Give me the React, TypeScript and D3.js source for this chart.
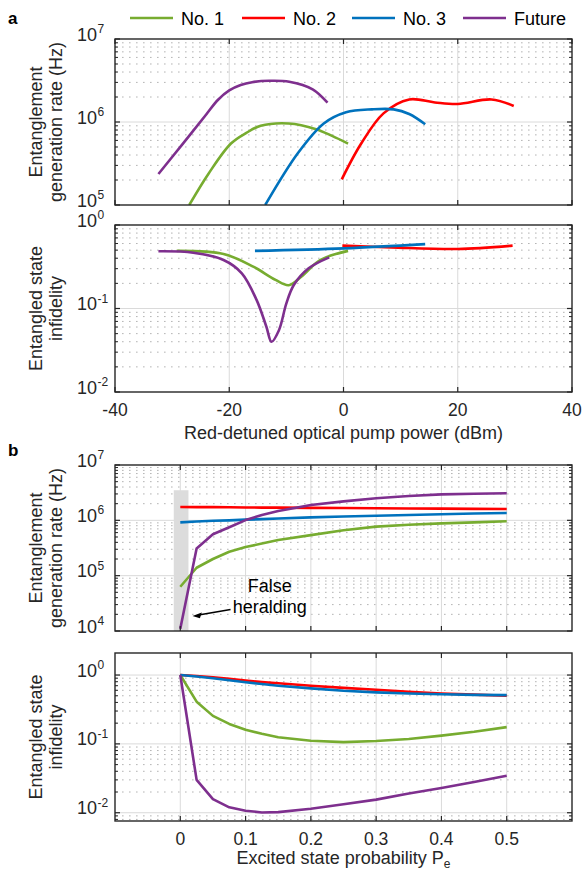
import React from 'react'
import * as d3 from 'd3'

// panel a: versus red-detuned optical pump power (dBm)
const rateNo1Power = [-27, -23.6, -19.7, -17, -14.5, -9.6, -4.8, -2, 0.8]
const rateNo1 = [1e5, 2.4e5, 5.5e5, 7.4e5, 9.0e5, 9.6e5, 8.2e5, 6.8e5, 5.5e5]
const rateNo2Power = [-0.3, 3.1, 7, 11.5, 16, 20, 25.9, 29.8]
const rateNo2 = [2.04e5, 5.5e5, 1.27e6, 1.87e6, 1.72e6, 1.65e6, 1.87e6, 1.56e6]
const rateNo3Power = [-13.7, -8, -3.45, 0.45, 5, 8.8, 11.5, 14.3]
const rateNo3 = [1e5, 4.2e5, 9.6e5, 1.31e6, 1.42e6, 1.42e6, 1.25e6, 9.4e5]
const rateFuturePower = [-32.4, -28, -24, -22, -20, -18, -16, -13, -9.5, -5.4, -2.8]
const rateFuture = [2.36e5, 5.6e5, 1.24e6, 1.84e6, 2.4e6, 2.79e6, 3.02e6, 3.14e6, 3.06e6, 2.48e6, 1.71e6]

const infNo1Power = [-29.2, -21, -15.8, -11.9, -9.6, -7.4, -4.1, 0.8]
const infNo1 = [0.49, 0.45, 0.317, 0.22, 0.19, 0.24, 0.38, 0.49]
const infNo2Power = [-0.2, 8.3, 20, 29.6]
const infNo2 = [0.566, 0.54, 0.516, 0.566]
const infNo3Power = [-15.5, 0.1, 14.3]
const infNo3 = [0.49, 0.525, 0.59]
const infFuturePower = [-32.4, -26.3, -21, -17.8, -15.2, -13.5, -12.6, -11.3, -10, -8.7, -6.1, -2.5]
const infFuture = [0.484, 0.466, 0.381, 0.264, 0.126, 0.0605, 0.04, 0.055, 0.115, 0.191, 0.303, 0.41]

// panel b: versus excited state probability Pe
const pe = [0, 0.025, 0.05, 0.075, 0.1, 0.125, 0.15, 0.2, 0.25, 0.3, 0.35, 0.4, 0.45, 0.5]
const peRateNo1 = [6.3e4, 1.39e5, 2.0e5, 2.7e5, 3.3e5, 3.8e5, 4.4e5, 5.4e5, 6.6e5, 7.7e5, 8.3e5, 8.8e5, 9.2e5, 9.6e5]
const peRateNo2 = [1.74e6, 1.73e6, 1.73e6, 1.72e6, 1.71e6, 1.7e6, 1.7e6, 1.68e6, 1.67e6, 1.65e6, 1.64e6, 1.63e6, 1.61e6, 1.6e6]
const peRateNo3 = [9.2e5, 9.5e5, 9.8e5, 1.0e6, 1.03e6, 1.05e6, 1.08e6, 1.13e6, 1.17e6, 1.21e6, 1.25e6, 1.29e6, 1.33e6, 1.36e6]
const peRateFuture = [1.1e4, 3.1e5, 5.6e5, 7.5e5, 1.01e6, 1.25e6, 1.47e6, 1.89e6, 2.2e6, 2.5e6, 2.75e6, 2.95e6, 3.03e6, 3.08e6]
const peInfNo1 = [1.0, 0.41, 0.255, 0.195, 0.16, 0.14, 0.125, 0.111, 0.106, 0.11, 0.118, 0.132, 0.15, 0.175]
const peInfNo2 = [1.0, 0.97, 0.93, 0.88, 0.83, 0.79, 0.76, 0.7, 0.65, 0.61, 0.57, 0.54, 0.52, 0.5]
const peInfNo3 = [1.0, 0.95, 0.9, 0.84, 0.785, 0.74, 0.7, 0.64, 0.59, 0.56, 0.54, 0.526, 0.515, 0.51]
const peInfFuture = [1.0, 0.03, 0.0158, 0.012, 0.0107, 0.0101, 0.0102, 0.0114, 0.0133, 0.0155, 0.019, 0.0229, 0.028, 0.0345]

const legendNames = ['No. 1', 'No. 2', 'No. 3', 'Future']
const colors = ['#77AC30', '#FF0000', '#0072BD', '#7E2F8E']
const powerTicks = [-40, -20, 0, 20, 40]
const peTicks = [0, 0.1, 0.2, 0.3, 0.4, 0.5]

const W = 582
const H = 871
const LEFT = 115
const RIGHT = 572
const FONT = 'Liberation Sans, Arial, Helvetica, sans-serif'
const AXIS = '#262626'

type Line = { xs: number[]; ys: number[]; color: string }

function LogPanel({ id, x, yDomain, top, bottom, lines, xTicks, xLabels, yLabel, curve, under, children }: {
  id: string
  x: d3.ScaleLinear<number, number>
  yDomain: [number, number]
  top: number
  bottom: number
  lines: Line[]
  xTicks: number[]
  xLabels?: string[]
  yLabel: string[]
  curve: d3.CurveFactory
  under?: (y: d3.ScaleLogarithmic<number, number>) => React.ReactNode
  children?: (y: d3.ScaleLogarithmic<number, number>) => React.ReactNode
}) {
  const y = d3.scaleLog().domain(yDomain).range([bottom, top])
  const lo = Math.floor(Math.log10(yDomain[0]))
  const hi = Math.ceil(Math.log10(yDomain[1]))
  const majors: number[] = []
  const minors: number[] = []
  for (let e = lo; e <= hi; e++) {
    const v = Math.pow(10, e)
    if (y(v) >= top - 0.5 && y(v) <= bottom + 0.5) majors.push(v)
    for (let m = 2; m <= 9; m++) {
      const py = y(m * v)
      // skip minor lines above the top decade (only the lower panel b has room there)
      if (py > top + 2 && py < bottom - 1 && m * v <= 1.0001 * Math.pow(10, Math.floor(Math.log10(yDomain[1]) + 1e-9))) minors.push(m * v)
    }
  }
  const path = (l: Line) =>
    d3.line<number>()
      .x(d => x(d))
      .y((_, i) => y(l.ys[i]))
      .curve(curve)(l.xs) || ''
  const cy = (top + bottom) / 2
  return (
    <g>
      <clipPath id={id}>
        <rect x={LEFT} y={top} width={RIGHT - LEFT} height={bottom - top} />
      </clipPath>
      {minors.map((v, i) => (
        <line key={'mg' + i} x1={LEFT} x2={RIGHT} y1={y(v)} y2={y(v)} stroke="#b4b4b4" strokeWidth={1} strokeDasharray="1.6,5.4" />
      ))}
      {majors.filter(v => y(v) > top + 1 && y(v) < bottom - 1).map((v, i) => (
        <line key={'g' + i} x1={LEFT} x2={RIGHT} y1={y(v)} y2={y(v)} stroke="#dadada" strokeWidth={1} />
      ))}
      {xTicks.filter(t => x(t) > LEFT + 1 && x(t) < RIGHT - 1).map((t, i) => (
        <line key={'vg' + i} x1={x(t)} x2={x(t)} y1={top} y2={bottom} stroke="#dadada" strokeWidth={1} />
      ))}
      {under && under(y)}
      <g clipPath={`url(#${id})`}>
        {lines.map((l, i) => (
          <path key={i} d={path(l)} fill="none" stroke={l.color} strokeWidth={2.6} strokeLinejoin="round" />
        ))}
      </g>
      {children && children(y)}
      <rect x={LEFT} y={top} width={RIGHT - LEFT} height={bottom - top} fill="none" stroke={AXIS} strokeWidth={1.4} />
      {majors.map((v, i) => (
        <g key={'t' + i}>
          <line x1={LEFT} x2={LEFT + 5} y1={y(v)} y2={y(v)} stroke={AXIS} strokeWidth={1.2} />
          <line x1={RIGHT} x2={RIGHT - 5} y1={y(v)} y2={y(v)} stroke={AXIS} strokeWidth={1.2} />
          <text x={97} y={y(v) + 1.5} textAnchor="end" fontSize={18} fill={AXIS}>10</text>
          <text x={97.5} y={y(v) - 6} textAnchor="start" fontSize={12} fill={AXIS}>{Math.round(Math.log10(v))}</text>
        </g>
      ))}
      {minors.map((v, i) => (
        <g key={'mt' + i}>
          <line x1={LEFT} x2={LEFT + 3} y1={y(v)} y2={y(v)} stroke={AXIS} strokeWidth={1} />
          <line x1={RIGHT} x2={RIGHT - 3} y1={y(v)} y2={y(v)} stroke={AXIS} strokeWidth={1} />
        </g>
      ))}
      {xTicks.map((t, i) => (
        <g key={'xt' + i}>
          <line x1={x(t)} x2={x(t)} y1={bottom} y2={bottom - 5} stroke={AXIS} strokeWidth={1.2} />
          <line x1={x(t)} x2={x(t)} y1={top} y2={top + 5} stroke={AXIS} strokeWidth={1.2} />
          {xLabels && (
            <text x={x(t)} y={bottom + 24} textAnchor="middle" fontSize={17.5} fill={AXIS}>{xLabels[i]}</text>
          )}
        </g>
      ))}
      {yLabel.map((s, i) => (
        <text key={'yl' + i} transform={`translate(${42 + i * 20},${cy}) rotate(-90)`} textAnchor="middle" fontSize={18} fill={AXIS}>{s}</text>
      ))}
    </g>
  )
}

export default function App() {
  const xa = d3.scaleLinear().domain([-40, 40]).range([LEFT, RIGHT])
  const xb = d3.scaleLinear().domain([-0.1, 0.6]).range([LEFT, RIGHT])
  const smooth = d3.curveCatmullRom.alpha(0.5)

  const aRate: Line[] = [
    { xs: rateNo1Power, ys: rateNo1, color: colors[0] },
    { xs: rateNo2Power, ys: rateNo2, color: colors[1] },
    { xs: rateNo3Power, ys: rateNo3, color: colors[2] },
    { xs: rateFuturePower, ys: rateFuture, color: colors[3] },
  ]
  const aInf: Line[] = [
    { xs: infNo1Power, ys: infNo1, color: colors[0] },
    { xs: infNo2Power, ys: infNo2, color: colors[1] },
    { xs: infNo3Power, ys: infNo3, color: colors[2] },
    { xs: infFuturePower, ys: infFuture, color: colors[3] },
  ]
  const bRate: Line[] = [peRateNo1, peRateNo2, peRateNo3, peRateFuture].map((ys, i) => ({ xs: pe, ys, color: colors[i] }))
  const bInf: Line[] = [peInfNo1, peInfNo2, peInfNo3, peInfFuture].map((ys, i) => ({ xs: pe, ys, color: colors[i] }))

  const legendX = [130, 242, 352, 463]

  return (
    <svg width={W} height={H} style={{ position: 'absolute', left: 0, top: 0, background: '#fff' }} fontFamily={FONT}>
      <rect width={W} height={H} fill="#fff" />
      <text x={8} y={24} fontSize={17} fontWeight="bold">a</text>
      <text x={8} y={456} fontSize={17} fontWeight="bold">b</text>

      {legendNames.map((n, i) => (
        <g key={n}>
          <line x1={legendX[i]} x2={legendX[i] + 43} y1={18} y2={18} stroke={colors[i]} strokeWidth={2.6} />
          <text x={legendX[i] + 51} y={25} fontSize={18} fill="#000">{n}</text>
        </g>
      ))}

      <LogPanel id="c1" x={xa} yDomain={[1e5, 1e7]} top={39} bottom={205} lines={aRate} xTicks={powerTicks}
        yLabel={['Entanglement', 'generation rate (Hz)']} curve={smooth} />
      <LogPanel id="c2" x={xa} yDomain={[1e-2, 1]} top={225} bottom={392} lines={aInf} xTicks={powerTicks}
        xLabels={powerTicks.map(String)} yLabel={['Entangled state', 'infidelity']} curve={smooth} />
      <text x={(LEFT + RIGHT) / 2} y={439} textAnchor="middle" fontSize={18} fill={AXIS}>Red-detuned optical pump power (dBm)</text>

      <LogPanel id="c3" x={xb} yDomain={[1e4, 1e7]} top={465} bottom={631} lines={bRate} xTicks={peTicks}
        yLabel={['Entanglement', 'generation rate (Hz)']} curve={d3.curveLinear}
        under={y => (
          <rect x={xb(-0.01)} y={y(3.5e6)} width={xb(0.0125) - xb(-0.01)} height={631 - y(3.5e6)} fill="#dcdcdc" />
        )}>
        {y => (
          <g>
            <text x={xb(0.137)} y={y(5.0e4)} textAnchor="middle" fontSize={18} fill="#000">False</text>
            <text x={xb(0.137)} y={y(2.15e4)} textAnchor="middle" fontSize={18} fill="#000">heralding</text>
            <line x1={xb(0.077)} y1={y(2.45e4)} x2={xb(0.028)} y2={y(1.95e4)} stroke="#000" strokeWidth={1.6} />
            <path d={`M${xb(0.0187)},${y(1.86e4)} L${xb(0.033)},${y(2.15e4)} L${xb(0.03)},${y(1.7e4)} Z`} fill="#000" />
          </g>
        )}
      </LogPanel>
      <LogPanel id="c4" x={xb} yDomain={[Math.pow(10, -2.12), Math.pow(10, 0.32)]} top={653} bottom={821} lines={bInf} xTicks={peTicks}
        xLabels={peTicks.map(String)} yLabel={['Entangled state', 'infidelity']} curve={d3.curveLinear} />
      <text x={(LEFT + RIGHT) / 2} y={864} textAnchor="middle" fontSize={18} fill={AXIS}>
        Excited state probability P<tspan fontSize={12} dy={4}>e</tspan>
      </text>
    </svg>
  )
}
